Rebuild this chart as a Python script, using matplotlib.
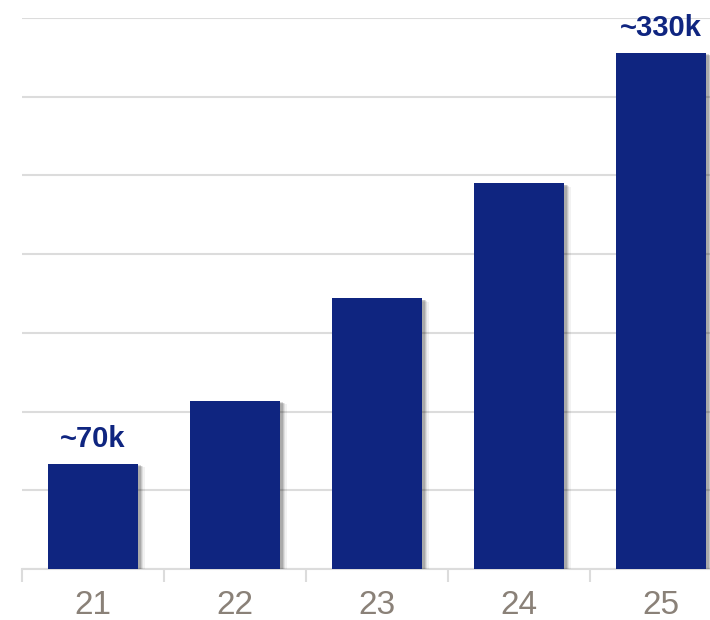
import matplotlib
matplotlib.use("Agg")
import matplotlib.pyplot as plt
import matplotlib.patheffects as pe

# Datos
years = ["21", "22", "23", "24", "25"]
values = [67000, 107000, 172000, 245000, 328000]
labels = {0: "~70k", 4: "~330k"}

BAR_COLOR = "#0f2580"
GRID_COLOR = "#dcdcdc"
TICK_COLOR = "#8a8178"

plt.rcParams['font.family'] = ['Liberation Sans', 'DejaVu Sans']

fig = plt.figure(figsize=(7.1, 6.2), dpi=100)
# el eje se sale un poco por la derecha, como en la referencia
ax = fig.add_axes([22 / 710, 51 / 620, 710 / 710, 551 / 620])

x = range(len(years))
bars = ax.bar(x, values, width=0.63, color=BAR_COLOR, zorder=3)

# sombra difusa a la derecha de cada barra
shadow = [
    pe.SimplePatchShadow(offset=(5, -2.5), shadow_rgbFace="#000000", alpha=0.05),
    pe.SimplePatchShadow(offset=(4, -2), shadow_rgbFace="#000000", alpha=0.08),
    pe.SimplePatchShadow(offset=(3, -1.5), shadow_rgbFace="#000000", alpha=0.11),
    pe.SimplePatchShadow(offset=(2, -1), shadow_rgbFace="#000000", alpha=0.14),
    pe.Normal(),
]
for b in bars:
    b.set_path_effects(shadow)

for i, txt in labels.items():
    ax.text(i, values[i] + 6500, txt, ha="center", va="bottom",
            fontsize=21, fontweight="bold", color=BAR_COLOR, zorder=4)

ax.set_xlim(-0.5, len(years) - 0.5)
ax.set_ylim(0, 350000)
ax.set_yticks(range(0, 350001, 50000))
ax.yaxis.grid(True, color=GRID_COLOR, linewidth=1.5, zorder=0)
ax.set_axisbelow(True)
ax.tick_params(axis="y", left=False, labelleft=False)

# ticks en los limites de cada categoria y etiquetas centradas
ax.set_xticks([i - 0.5 for i in x])
ax.set_xticks(list(x), minor=True)
ax.set_xticklabels([])
ax.set_xticklabels(years, minor=True)
ax.tick_params(axis="x", which="major", length=9, width=1.5, color=GRID_COLOR)
ax.tick_params(axis="x", which="minor", length=0, pad=15,
               labelsize=24, labelcolor=TICK_COLOR)

for s in ["top", "right", "left"]:
    ax.spines[s].set_visible(False)
ax.spines["bottom"].set_color(GRID_COLOR)
ax.spines["bottom"].set_linewidth(1.5)

fig.savefig("out.png", dpi=100)
